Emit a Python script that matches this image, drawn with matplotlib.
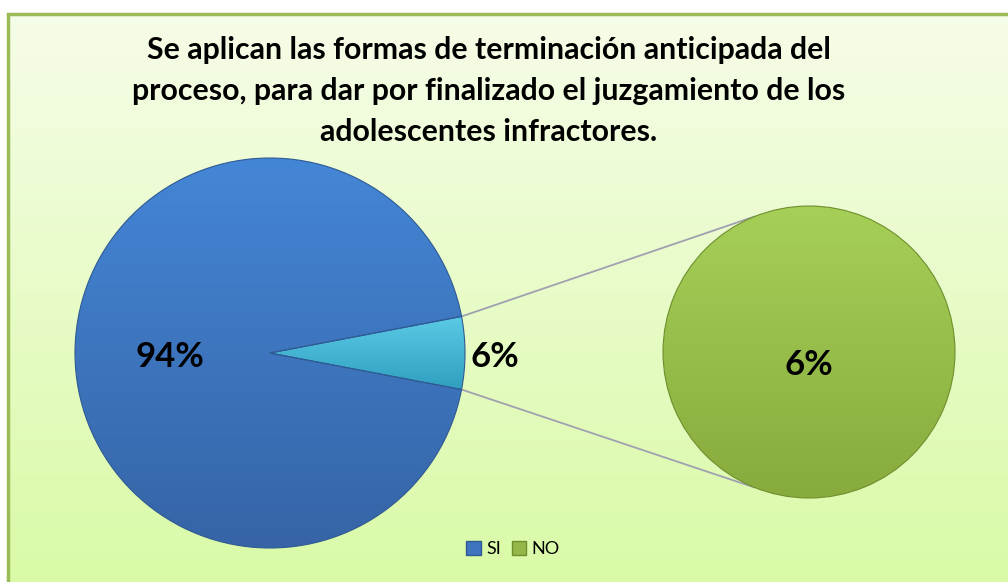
import numpy as np
import matplotlib
matplotlib.use("Agg")
import matplotlib.pyplot as plt
from matplotlib.patches import Rectangle, Patch
from matplotlib.colors import LinearSegmentedColormap

plt.rcParams['font.family'] = ['Lato', 'DejaVu Sans']

# data
title = ("Se aplican las formas de terminación anticipada del\n"
         "proceso, para dar por finalizado el juzgamiento de los\n"
         "adolescentes infractores.")
categories = ["SI", "NO"]
shares = [94, 6]          # main pie, percent
sub_shares = [6]          # second pie (the NO part)
labels_main = ["94%", "6%"]
labels_sub = ["6%"]

W, H = 1008, 582
fig = plt.figure(figsize=(W / 100, H / 100), dpi=100)
fig.patch.set_facecolor("white")
ax = fig.add_axes([0, 0, 1, 1])


def py(y):
    # pixel row -> data y
    return H - y


def reset_view():
    ax.set_xlim(0, W)
    ax.set_ylim(0, H)
    ax.set_aspect("equal")
    ax.axis("off")


def grad_fill(patch, top, bottom, box):
    cmap = LinearSegmentedColormap.from_list("g", [top, bottom])
    x0, x1, y0, y1 = box
    im = ax.imshow(np.linspace(0, 1, 256).reshape(-1, 1), cmap=cmap, aspect="auto",
                   extent=(x0, x1, y0, y1), origin="upper", zorder=patch.get_zorder() - 0.1)
    im.set_clip_path(patch)


reset_view()

# chart area background
bg = Rectangle((8, py(590)), 1010, 576, facecolor="none", edgecolor="#9BBB59", lw=2.5, zorder=1)
ax.add_patch(bg)
grad_fill(bg, "#F6FDE8", "#D9FAA6", (8, 1018, py(590), py(14)))

# main pie
cx, cy, r = 270, py(353), 195
half = 360 * shares[1] / 100 / 2
wedges, _ = ax.pie(shares, center=(cx, cy), radius=r, startangle=half, counterclock=True,
                   colors=["none", "none"], frame=True,
                   wedgeprops=dict(edgecolor="#2F5A94", linewidth=0.8))
reset_view()
for w in wedges:
    w.set_zorder(3)
grad_fill(wedges[0], "#4486D6", "#3664A6", (cx - r, cx + r, cy - r, cy + r))
grad_fill(wedges[1], "#5CCCE8", "#2E9DBE", (cx - r, cx + r, cy - 40, cy + 40))

# second pie
sx, sy, sr = 809, py(352), 146
sub_w, _ = ax.pie(sub_shares, center=(sx, sy), radius=sr, colors=["none"], frame=True,
                  wedgeprops=dict(edgecolor="#6F8F2E", linewidth=0.8))
reset_view()
sub_w[0].set_zorder(3)
grad_fill(sub_w[0], "#A6CF58", "#87AB3C", (sx - sr, sx + sr, sy - sr, sy + sr))

# connector lines
for sgn, ang in [(1, 112), (-1, -112)]:
    a0 = np.deg2rad(sgn * half)
    a1 = np.deg2rad(ang)
    ax.plot([cx + r * np.cos(a0), sx + sr * np.cos(a1)],
            [cy + r * np.sin(a0), sy + sr * np.sin(a1)],
            color="#A0A0B0", lw=1.3, zorder=2)

# labels
ax.text(170, py(357), labels_main[0], ha="center", va="center", fontsize=25,
        fontweight="bold", zorder=5)
ax.text(495, py(357), labels_main[1], ha="center", va="center", fontsize=25,
        fontweight="bold", zorder=5)
ax.text(sx, py(365), labels_sub[0], ha="center", va="center", fontsize=25,
        fontweight="bold", zorder=5)

# title
ax.text(489, py(91), title, ha="center", va="center", fontsize=21.8, fontweight="bold",
        linespacing=1.55, zorder=5)

# legend
handles = [Patch(facecolor="#3F74C0", edgecolor="#2F5A94"),
           Patch(facecolor="#93B748", edgecolor="#6F8F2E")]
ax.legend(handles, categories, loc="center", bbox_to_anchor=(513 / W, 1 - 549 / H),
          ncol=2, frameon=False, fontsize=13, handlelength=0.8, handleheight=0.8,
          handletextpad=0.3, columnspacing=0.6)

fig.savefig("out.png", dpi=100, facecolor=fig.get_facecolor())
